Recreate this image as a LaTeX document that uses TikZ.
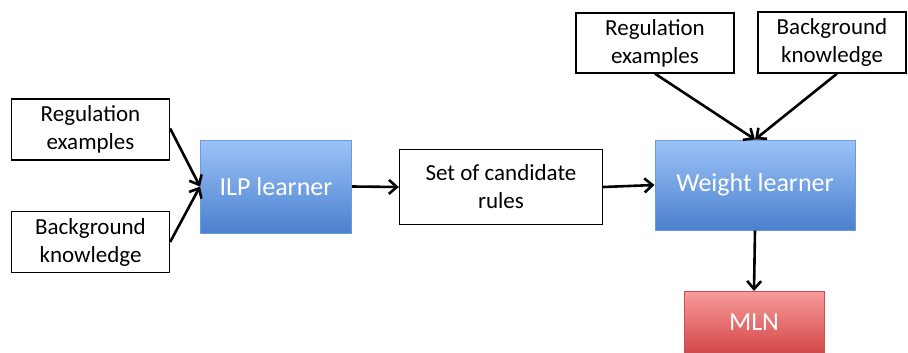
\documentclass[tikz,border=0pt]{standalone}
\usepackage{fontspec}
\setmainfont{Carlito}
\usetikzlibrary{arrows.meta}
\definecolor{bluetop}{HTML}{9DC3F8}
\definecolor{bluebot}{HTML}{4A80CE}
\definecolor{blueedge}{HTML}{6A9BDD}
\definecolor{redtop}{HTML}{F89B9B}
\definecolor{redbot}{HTML}{D44848}
\definecolor{rededge}{HTML}{C85050}
\tikzset{
  whitebox/.style={draw=black, line width=1.3pt, fill=white, align=center, inner sep=0pt, font=\fontsize{23}{28}\selectfont},
  bluebox/.style={draw=blueedge, line width=1pt, top color=bluetop, bottom color=bluebot, text=white, inner sep=0pt, font=\fontsize{26}{30}\selectfont},
  redbox/.style={draw=rededge, line width=1pt, top color=redtop, bottom color=redbot, text=white, inner sep=0pt, font=\fontsize{26}{30}\selectfont},
  arr/.style={-{Straight Barb[length=8pt,width=14pt]}, line width=2.6pt}
}
\begin{document}
\begin{tikzpicture}[x=1pt,y=-1pt]
\useasboundingbox (0,0) rectangle (908,353);
\node[whitebox, minimum width=158pt, minimum height=61pt] (re1) at (90.5,129.5) {Regulation\\examples};
\node[whitebox, minimum width=158pt, minimum height=61pt] (bk1) at (90.5,242) {Background\\knowledge};
\node[bluebox, minimum width=151pt, minimum height=93pt] (ilp) at (276,186.5) {ILP learner};
\node[whitebox, minimum width=203pt, minimum height=75pt] (cand) at (501,187) {Set of candidate\\rules};
\node[bluebox, minimum width=200pt, minimum height=90pt] (wl) at (755,185) {Weight learner};
\node[whitebox, minimum width=158pt, minimum height=60pt] (re2) at (655,43) {Regulation\\examples};
\node[whitebox, minimum width=148pt, minimum height=61pt] (bk2) at (832,42.5) {Background\\knowledge};
\node[redbox, minimum width=140pt, minimum height=61pt, anchor=north] (mln) at (754,291) {MLN};
\coordinate (ilpin) at (ilp.west);
\coordinate (wlin) at (wl.north);
\draw[arr] (re1.east) ++(0,-1) -- (ilpin);
\draw[arr] (bk1.east) -- (ilpin);
\draw[arr] (ilp.east) -- (cand.west);
\draw[arr] (cand.east) -- (wl.west);
\draw[arr] (re2.south) -- (wlin);
\draw[arr] (bk2.south) ++(5,0) -- (wlin);
\draw[arr] (wl.south) -- (mln.north);
\end{tikzpicture}
\end{document}
